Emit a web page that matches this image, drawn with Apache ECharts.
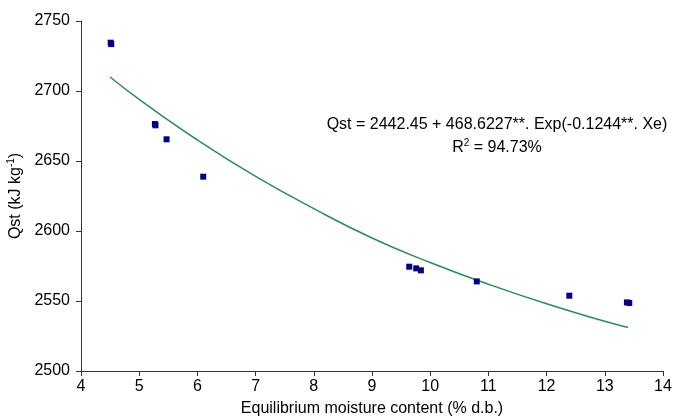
<!DOCTYPE html>
<html>
<head>
<meta charset="utf-8">
<script src="https://cdn.jsdelivr.net/npm/echarts@6/dist/echarts.min.js"></script>
<style>
  html, body { margin: 0; padding: 0; background: #fff; }
  #chart { width: 673px; height: 418px; }
</style>
</head>
<body>
<div id="chart"></div>
<script>
// observed points (Xe, Qst)
var obsX = [4.51, 4.52, 5.27, 5.28, 5.47, 6.10, 9.64, 9.76, 9.84, 10.80, 12.39, 13.38, 13.42];
var obsY = [2734.5, 2733.5, 2676.4, 2675.5, 2665.5, 2638.8, 2574.5, 2573.3, 2571.9, 2564.0, 2553.8, 2549.0, 2548.6];

// fitted curve
var fitX = [4.5, 5, 6, 7, 8, 9, 10, 11, 12, 13, 13.4];
var fitY = [2710, 2694, 2665, 2639, 2616, 2595, 2577.5, 2562, 2548, 2535.5, 2531];

var xTicks = [4, 5, 6, 7, 8, 9, 10, 11, 12, 13, 14];
var yTicks = [2500, 2550, 2600, 2650, 2700, 2750];

var myChart = echarts.init(document.getElementById("chart"));

var obsData = [];
for (var i = 0; i < obsX.length; i++) obsData.push([obsX[i], obsY[i]]);
var fitData = [];
for (var j = 0; j < fitX.length; j++) fitData.push([fitX[j], fitY[j]]);

var font = 'Liberation Sans, Arial, sans-serif';

var option = {
    animation: false,
    grid: { left: 81, right: 10, top: 21, bottom: 47, containLabel: false, outerBoundsMode: 'none' },
    xAxis: {
        type: 'value',
        min: xTicks[0],
        max: xTicks[xTicks.length - 1],
        interval: 1,
        name: 'Equilibrium moisture content (% d.b.)',
        nameLocation: 'middle',
        nameGap: 30,
        nameTextStyle: { color: '#000', fontSize: 16, fontFamily: font },
        axisLine: { lineStyle: { color: '#333', width: 1 } },
        axisTick: { show: true, inside: false, length: 5, lineStyle: { color: '#333' } },
        axisLabel: { color: '#000', fontSize: 16, fontFamily: font, margin: 8 },
        splitLine: { show: false }
    },
    yAxis: {
        type: 'value',
        min: yTicks[0],
        max: yTicks[yTicks.length - 1],
        interval: 50,
        name: '{a|Qst (kJ kg}{s|-1}{a|)}',
        nameLocation: 'middle',
        nameGap: 54,
        nameTextStyle: {
            color: '#000', fontSize: 16, fontFamily: font,
            rich: {
                a: { fontSize: 16, fontFamily: font, color: '#000' },
                s: { fontSize: 10, fontFamily: font, color: '#000', padding: [0, 0, 9, 0] }
            }
        },
        axisLine: { show: true, lineStyle: { color: '#333', width: 1 } },
        axisTick: { show: true, inside: false, length: 5, lineStyle: { color: '#333' } },
        axisLabel: {
            color: '#000', fontSize: 16, fontFamily: font, margin: 11,
            formatter: function (v) { return String(v); }
        },
        splitLine: { show: false }
    },
    series: [
        {
            name: 'fit',
            type: 'line',
            data: fitData,
            smooth: true,
            showSymbol: false,
            lineStyle: { color: '#2e8b57', width: 1.5 },
            z: 2
        },
        {
            name: 'observed',
            type: 'scatter',
            data: obsData,
            symbol: 'rect',
            symbolSize: 6,
            itemStyle: { color: '#000080', opacity: 1 },
            z: 3
        }
    ],
    graphic: [
        {
            type: 'text',
            x: 497,
            y: 125,
            style: {
                text: 'Qst = 2442.45 + 468.6227**. Exp(-0.1244**. Xe)',
                font: '16px ' + font,
                fill: '#000',
                align: 'center',
                verticalAlign: 'middle'
            }
        },
        {
            type: 'text',
            x: 497,
            y: 148,
            style: {
                text: '{a|R}{s|2}{a| = 94.73%}',
                fill: '#000',
                align: 'center',
                verticalAlign: 'middle',
                rich: {
                    a: { fontSize: 16, fontFamily: font, color: '#000' },
                    s: { fontSize: 10, fontFamily: font, color: '#000', padding: [0, 0, 9, 0] }
                }
            }
        }
    ]
};
myChart.setOption(option);
</script>
</body>
</html>
